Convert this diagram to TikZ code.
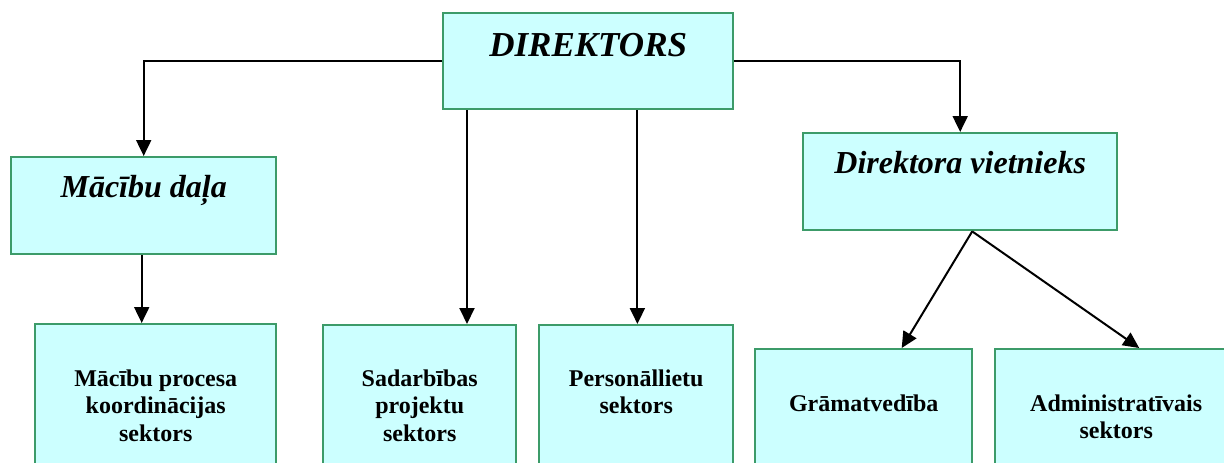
\documentclass[tikz,border=0pt]{standalone}
\usepackage{fontspec}
\setmainfont{Liberation Serif}
\usetikzlibrary{arrows.meta,calc}
\definecolor{boxfill}{RGB}{204,255,255}
\definecolor{boxline}{RGB}{60,155,105}
\begin{document}
\begin{tikzpicture}[x=1pt,y=-1pt,
  box/.style={draw=boxline,fill=boxfill,line width=2.4pt,inner sep=0pt,anchor=north west},
  arr/.style={line width=2pt,-{Triangle[length=16pt,width=15pt]}},
  toptext/.style={font=\fontsize{32}{38}\selectfont\bfseries\itshape,anchor=base,inner sep=0pt},
  subtext/.style={font=\fontsize{24}{27.5}\selectfont\bfseries,align=center,anchor=base,inner sep=0pt}]
\useasboundingbox (0,0) rectangle (1224,463);
\clip (0,0) rectangle (1224,463);
\fill[white] (0,0) rectangle (1224,463);
% boxes
\node[box,minimum width=290pt,minimum height=96pt] (dir) at (442,12) {};
\node[box,minimum width=265pt,minimum height=97pt] (mac) at (10,156) {};
\node[box,minimum width=314pt,minimum height=97pt] (viet) at (802,132) {};
\node[box,minimum width=241pt,minimum height=200pt] (proc) at (34,323) {};
\node[box,minimum width=193pt,minimum height=200pt] (sad) at (322,324) {};
\node[box,minimum width=194pt,minimum height=200pt] (pers) at (538,324) {};
\node[box,minimum width=217pt,minimum height=200pt] (gram) at (754,348) {};
\node[box,minimum width=242pt,minimum height=200pt] (adm) at (994,348) {};
% texts (anchor base = baseline of the last line)
\node[toptext,font=\fontsize{35}{40}\selectfont\bfseries\itshape] (dirt) at ($(dir.north)+(0,44)$) {DIREKTORS};
\node[toptext] (mact) at ($(mac.north)+(0,41)$) {Mācību daļa};
\node[toptext] (vietT) at ($(viet.north)+(0,41)$) {Direktora vietnieks};
\node[subtext] (proct) at ($(proc.north)+(0,118)$) {Mācību procesa\\koordinācijas\\sektors};
\node[subtext] (sadt) at ($(sad.north)+(0,117)$) {Sadarbības\\projektu\\sektors};
\node[subtext] (perst) at ($(pers.north)+(0,89.5)$) {Personāllietu\\sektors};
\node[subtext] (gramt) at ($(gram.north)+(0,63)$) {Grāmatvedība};
\node[subtext] (admt) at ($(adm.north)+(0,90.5)$) {Administratīvais\\sektors};
% connectors
\draw[arr] (dir.west) -| (mac.north);
\draw[arr] (dir.east) -| (viet.north);
\coordinate (d1) at ([xshift=25pt]dir.south west);
\coordinate (d2) at ([xshift=-97pt]dir.south east);
\draw[arr] (d1) -- (d1 |- sad.north);
\draw[arr] (d2) -- (d2 |- pers.north);
\coordinate (m1) at ([xshift=-2pt]mac.south);
\draw[arr] (m1) -- (m1 |- proc.north);
\coordinate (v0) at ([xshift=12pt]viet.south);
\draw[arr] (v0) -- ([xshift=38pt]gram.north);
\draw[arr] (v0) -- ([xshift=23pt]adm.north);
\end{tikzpicture}
\end{document}
